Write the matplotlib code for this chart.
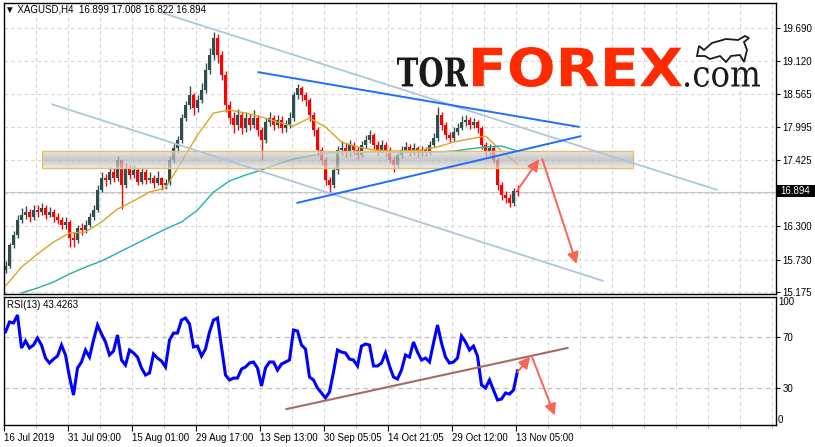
import matplotlib
matplotlib.use('Agg')
import matplotlib.pyplot as plt
import numpy as np
from matplotlib.patches import Rectangle, PathPatch, Polygon
from matplotlib.textpath import TextPath
from matplotlib.font_manager import FontProperties
from matplotlib.transforms import Affine2D

plt.rcParams['font.family'] = ['Liberation Sans', 'DejaVu Sans']

# ---------------- data ----------------
symbol = 'XAGUSD,H4'
last_ohlc = [16.899, 17.008, 16.822, 16.894]
rsi_name = 'RSI(13)'
first_open = 15.55

close = [15.62, 15.98, 16.15, 16.41, 16.50, 16.55, 16.45, 16.58, 16.55, 16.62,
         16.50, 16.55, 16.45, 16.41, 16.32, 16.37, 16.10, 16.07, 16.27, 16.24,
         16.32, 16.45, 16.58, 16.92, 17.12, 17.09, 17.23, 17.12, 17.43, 17.00,
         17.30, 17.18, 17.26, 17.06, 17.23, 17.09, 17.12, 17.04, 17.12, 17.00,
         17.04, 17.43, 17.64, 17.77, 18.15, 18.37, 18.54, 18.32, 18.46, 18.63,
         18.97, 19.23, 19.52, 19.23, 18.89, 18.37, 18.15, 18.03, 18.20, 17.98,
         18.15, 18.03, 18.15, 17.95, 17.77, 18.08, 18.15, 18.03, 18.12, 17.98,
         18.03, 18.15, 18.54, 18.66, 18.54, 18.46, 18.20, 17.95, 17.60, 17.43,
         17.09, 17.00, 17.26, 17.60, 17.64, 17.57, 17.69, 17.60, 17.52, 17.69,
         17.77, 17.86, 17.69, 17.60, 17.69, 17.60, 17.43, 17.35, 17.52, 17.60,
         17.66, 17.57, 17.64, 17.55, 17.60, 17.57, 17.69, 17.81, 18.20, 18.03,
         17.86, 17.81, 17.91, 17.98, 18.08, 18.12, 18.03, 18.08, 17.98, 17.69,
         17.57, 17.64, 17.43, 17.00, 16.83, 16.78, 16.70, 16.899, 16.894]

high = [15.70, 16.02, 16.22, 16.50, 16.62, 16.65, 16.60, 16.66, 16.66, 16.70,
        16.66, 16.63, 16.60, 16.52, 16.45, 16.45, 16.40, 16.20, 16.32, 16.35,
        16.40, 16.52, 16.66, 17.00, 17.22, 17.20, 17.32, 17.30, 17.50, 17.45,
        17.38, 17.35, 17.35, 17.30, 17.30, 17.28, 17.22, 17.18, 17.25, 17.15,
        17.10, 17.50, 17.72, 17.85, 18.22, 18.45, 18.70, 18.58, 18.55, 18.75,
        19.10, 19.35, 19.62, 19.58, 19.30, 18.95, 18.45, 18.25, 18.30, 18.25,
        18.25, 18.22, 18.28, 18.20, 18.00, 18.15, 18.25, 18.20, 18.20, 18.18,
        18.12, 18.25, 18.60, 18.73, 18.70, 18.60, 18.50, 18.25, 18.00, 17.65,
        17.48, 17.15, 17.32, 17.68, 17.75, 17.72, 17.78, 17.74, 17.65, 17.76,
        17.86, 17.95, 17.90, 17.75, 17.78, 17.74, 17.65, 17.50, 17.58, 17.68,
        17.74, 17.70, 17.72, 17.68, 17.68, 17.66, 17.76, 17.90, 18.34, 18.25,
        18.08, 17.92, 18.00, 18.06, 18.18, 18.20, 18.16, 18.15, 18.12, 18.02,
        17.74, 17.70, 17.68, 17.46, 17.05, 16.90, 16.85, 16.95, 17.008]

low = [15.50, 15.58, 15.92, 16.10, 16.35, 16.42, 16.38, 16.40, 16.46, 16.50,
       16.42, 16.45, 16.38, 16.33, 16.25, 16.26, 15.95, 15.95, 16.02, 16.15,
       16.18, 16.28, 16.40, 16.55, 16.88, 16.98, 17.02, 17.05, 17.08, 16.60,
       16.95, 17.10, 17.12, 17.00, 17.02, 17.02, 17.04, 16.96, 17.00, 16.92,
       16.94, 17.00, 17.38, 17.55, 17.72, 18.10, 18.30, 18.20, 18.25, 18.40,
       18.58, 18.90, 19.15, 19.10, 18.80, 18.25, 18.05, 17.90, 17.95, 17.88,
       17.92, 17.95, 17.98, 17.85, 17.43, 17.72, 18.02, 17.95, 17.98, 17.90,
       17.92, 17.98, 18.10, 18.48, 18.45, 18.35, 18.10, 17.85, 17.50, 17.35,
       17.00, 16.89, 16.95, 17.20, 17.52, 17.48, 17.50, 17.52, 17.45, 17.48,
       17.64, 17.72, 17.62, 17.52, 17.55, 17.50, 17.38, 17.22, 17.30, 17.46,
       17.55, 17.50, 17.52, 17.48, 17.50, 17.50, 17.52, 17.65, 17.76, 17.95,
       17.80, 17.74, 17.76, 17.86, 17.94, 18.02, 17.96, 17.98, 17.90, 17.62,
       17.50, 17.52, 17.38, 16.92, 16.75, 16.70, 16.63, 16.65, 16.822]

rsi = [74.0, 81.8, 81.0, 87.3, 61.4, 66.9, 61.4, 63.7, 69.2, 63.7,
       53.5, 49.6, 52.7, 55.1, 63.7, 55.9, 38.6, 24.5, 45.7, 50.4,
       59.8, 54.3, 67.6, 79.4, 72.4, 66.1, 55.9, 59.0, 71.6, 52.0,
       48.0, 59.8, 57.5, 54.3, 45.7, 40.2, 41.8, 56.7, 53.5, 51.2,
       46.5, 67.6, 73.1, 73.1, 83.3, 84.9, 80.2, 62.2, 62.9, 55.1,
       60.6, 73.9, 83.3, 84.9, 62.2, 40.2, 36.3, 37.8, 37.8, 44.9,
       46.5, 49.6, 50.4, 45.7, 31.6, 45.7, 50.4, 50.4, 44.1, 48.8,
       50.4, 52.0, 75.5, 74.7, 63.7, 60.6, 38.6, 36.3, 30.0, 26.1,
       22.2, 26.9, 42.5, 59.8, 58.2, 57.5, 52.7, 52.0, 47.3, 62.9,
       64.5, 63.7, 47.3, 47.3, 49.6, 57.5, 47.3, 38.6, 37.1, 44.1,
       55.9, 54.3, 66.1, 58.2, 52.0, 53.5, 50.4, 65.3, 79.4, 65.3,
       54.3, 49.6, 50.4, 53.5, 70.8, 66.1, 59.8, 62.9, 55.1, 32.4,
       30.0, 36.3, 28.4, 20.6, 21.4, 26.1, 25.3, 28.4, 43.4263]

# moving averages, one value every 4 bars
ma_fast = [15.277, 15.602, 15.825, 16.030, 16.184, 16.201, 16.372, 16.594, 16.731,
           16.885, 16.954, 17.398, 17.860, 18.236, 18.288, 18.236, 18.168, 18.082,
           18.014, 18.151, 17.997, 17.740, 17.655, 17.603, 17.586, 17.586, 17.603,
           17.655, 17.740, 17.792, 17.843, 17.586, 17.364]
ma_slow = [15.158, 15.243, 15.346, 15.483, 15.602, 15.705, 15.842, 15.979, 16.116,
           16.252, 16.372, 16.577, 16.885, 17.073, 17.176, 17.261, 17.364, 17.450,
           17.501, 17.552, 17.569, 17.569, 17.569, 17.569, 17.569, 17.569, 17.569,
           17.586, 17.621, 17.655, 17.672, 17.586]

price_ticks = [19.690, 19.120, 18.565, 17.995, 17.425, 16.860, 16.300, 15.730, 15.175]
price_labels = ['19.690', '19.120', '18.565', '17.995', '17.425', '', '16.300', '15.730', '15.175']
date_labels = ['16 Jul 2019', '31 Jul 09:00', '15 Aug 01:00', '29 Aug 17:00',
               '13 Sep 13:00', '30 Sep 05:05', '14 Oct 21:05', '29 Oct 12:00',
               '13 Nov 05:00']
rsi_levels = [70, 30]

# drawn analysis objects: (bar index, value)
channel_top = [(39.25, 19.947), (178.0, 16.919)]
channel_bottom = [(11.5, 18.389), (149.5, 15.363)]
wedge_top = [(63.0, 18.937), (143.5, 17.997)]
wedge_bottom = [(72.75, 16.697), (144.0, 17.843)]
zone = [(9.0, 17.296), (156.75, 17.586)]
arrow_up = [(128.0, 16.919), (133.4, 17.445)]
arrow_down = [(134.2, 17.445), (142.8, 15.654)]
rsi_trend = [(70.25, 13.5), (140.5, 61.4)]
rsi_arrow_up = [(128.0, 42.5), (131.2, 54.6)]
rsi_arrow_down = [(131.6, 54.6), (137.3, 8.5)]

# ---------------- figure ----------------
W, H = 815, 447
fig = plt.figure(figsize=(W / 100, H / 100), dpi=100)
fig.patch.set_facecolor('white')

L, R = 3.5, 775.5
ax = fig.add_axes([L / W, 1 - 294 / H, (R - L) / W, 291 / H])
rx = fig.add_axes([L / W, 1 - 425 / H, (R - L) / W, 128 / H])

XL = (-0.5, 192.5)
grid_kw = dict(color='#d4d4d4', lw=0.8, linestyle=(0, (3, 3)), zorder=0)

n = len(close)
idx = np.arange(n)
opens = [first_open] + close[:-1]
bull_c, bear_c = '#2F4F4F', '#FF0000'

for a in (ax, rx):
    for k in range(0, 25):
        a.axvline(-0.5 + 8 * k, **grid_kw)
for p in price_ticks:
    ax.axhline(p, **grid_kw)
for lv in rsi_levels:
    rx.axhline(lv, color='#c0c0c0', lw=0.9, linestyle=(0, (4, 3)), zorder=0)

# bid line
ax.axhline(last_ohlc[3], color='#c8c8c8', lw=0.8, zorder=1)

# candles
for i in range(n):
    o, c, h, l = opens[i], close[i], high[i], low[i]
    col = bull_c if c >= o else bear_c
    ax.vlines(i, l, h, color=col, lw=1.0, zorder=2)
    ax.bar(i, max(abs(c - o), 0.012), bottom=min(o, c), width=0.6,
           color=col, lw=0, zorder=2)

# moving averages
ax.plot(np.arange(len(ma_fast)) * 4, ma_fast, color='#DAA520', lw=1.0, zorder=3)
ax.plot(4 + np.arange(len(ma_slow)) * 4, ma_slow, color='#20B2AA', lw=1.0, zorder=3)

# zone with vertical gradient
(zx0, zy0), (zx1, zy1) = zone
g = np.abs(np.linspace(-1, 1, 60))[:, None]
center = np.array([0.72, 0.72, 0.72])
edge = np.array([0.90, 0.90, 0.90])
img = np.zeros((60, 1, 4))
img[:, :, :3] = center + (edge - center) * g[:, :, None] ** 1.5
img[:, :, 3] = 0.72
ax.imshow(img, extent=[zx0, zx1, zy0, zy1], aspect='auto', interpolation='bilinear', zorder=4)
ax.add_patch(Rectangle((zx0, zy0), zx1 - zx0, zy1 - zy0, fill=False,
                       edgecolor='#E8BC68', lw=1.0, zorder=4))

# trend lines
for seg, col, lw in [(channel_top, '#B0C4DE', 1.3), (channel_bottom, '#B0C4DE', 1.3),
                     (wedge_top, '#1E6EFF', 1.4), (wedge_bottom, '#1E6EFF', 1.4)]:
    ax.plot([seg[0][0], seg[1][0]], [seg[0][1], seg[1][1]], color=col, lw=lw, zorder=5,
            solid_capstyle='butt')

arrow_col = '#FA6458'
def draw_arrow(a, seg):
    a.annotate('', xy=seg[1], xytext=seg[0],
               arrowprops=dict(arrowstyle='-|>', color=arrow_col, lw=1.4,
                               mutation_scale=17, shrinkA=0, shrinkB=0), zorder=6)

draw_arrow(ax, arrow_up)
draw_arrow(ax, arrow_down)

# RSI
rx.plot(idx, rsi, color='#0000FF', lw=2.2, zorder=3, solid_joinstyle='miter')
rx.plot([rsi_trend[0][0], rsi_trend[1][0]], [rsi_trend[0][1], rsi_trend[1][1]],
        color='#A86868', lw=1.5, zorder=4)
draw_arrow(rx, rsi_arrow_up)
draw_arrow(rx, rsi_arrow_down)

# limits & axes styling
ax.set_xlim(*XL)
ax.set_ylim(15.141, 20.118)
rx.set_xlim(*XL)
rx.set_ylim(1.0, 101.4)

for a in (ax, rx):
    for s in a.spines.values():
        s.set_color('black')
        s.set_linewidth(1.0)
    a.set_facecolor('white')

ax.yaxis.tick_right()
ax.set_yticks(price_ticks)
ax.set_yticklabels(price_labels)
ax.tick_params(axis='y', length=3, pad=2, labelsize=7, color='black', direction='out')
ax.tick_params(axis='x', bottom=False, labelbottom=False)

rx.yaxis.tick_right()
rx.set_yticks(rsi_levels)
rx.set_yticklabels([str(v) for v in rsi_levels])
rx.tick_params(axis='y', length=3, pad=2, labelsize=7, direction='out')
fig.text(778 / W, 1 - 302 / H, '100', fontsize=7, va='center', ha='left')
fig.text(778 / W, 1 - 420 / H, '0', fontsize=7, va='center', ha='left')

rx.set_xticks([-0.5 + 16 * k for k in range(len(date_labels))])
rx.set_xticklabels(date_labels)
for t in rx.get_xticklabels():
    t.set_ha('left')
rx.set_xticks([-0.5 + 8 * k for k in range(25)], minor=True)
rx.tick_params(axis='x', which='major', length=4, pad=2, labelsize=7, direction='out')
rx.tick_params(axis='x', which='minor', length=2, color='#a0a0a0', direction='out')

# header texts
fig.text(5 / W, 1 - 10 / H, '\u25bc ' + symbol + '  ' + ' '.join('%.3f' % v for v in last_ohlc),
         fontsize=7, va='center', ha='left')
fig.text(7 / W, 1 - 305 / H, '%s %.4f' % (rsi_name, rsi[-1]), fontsize=7, va='center', ha='left')

# current price box
fig.patches.append(Rectangle((777 / W, 1 - 197 / H), 38 / W, 12 / H, transform=fig.transFigure,
                             facecolor='black', edgecolor='none', figure=fig))
fig.text(780 / W, 1 - 191 / H, '%.3f' % last_ohlc[3], fontsize=7, color='white',
         va='center', ha='left')

# logo
pix = Affine2D().scale(1 / W, 1 / H) + fig.transFigure

def fit_text(s, box, prop, color):
    tp = TextPath((0, 0), s, size=100, prop=prop)
    bb = tp.get_extents()
    x0, ytop, x1, ybot = box
    tr = Affine2D().translate(-bb.x0, -bb.y0).scale((x1 - x0) / bb.width,
                                                      (ybot - ytop) / bb.height).translate(x0, H - ybot)
    fig.add_artist(PathPatch(tr.transform_path(tp), facecolor=color, edgecolor='none',
                             transform=pix))

fit_text('TOR', (397, 57, 468, 87), FontProperties(family='DejaVu Serif', weight='bold'), '#1a1a1a')
fit_text('FOREX', (473, 47, 682, 87), FontProperties(family='DejaVu Sans', weight='bold'), '#FF2A00')
fit_text('.com', (685, 67, 760, 87), FontProperties(family='DejaVu Serif'), '#1a1a1a')

bull = [(697, 56), (699, 46), (704, 50), (712, 43), (726, 39), (738, 40), (745, 36),
        (749, 38), (744, 42), (747, 50), (744, 62), (740, 55), (731, 56), (726, 62),
        (720, 56), (710, 59), (705, 56)]
fig.add_artist(Polygon([(x, H - y) for x, y in bull], closed=True, facecolor='white',
                       edgecolor='#1a1a1a', lw=1.3, transform=pix))

fig.savefig('out.png', dpi=100)
